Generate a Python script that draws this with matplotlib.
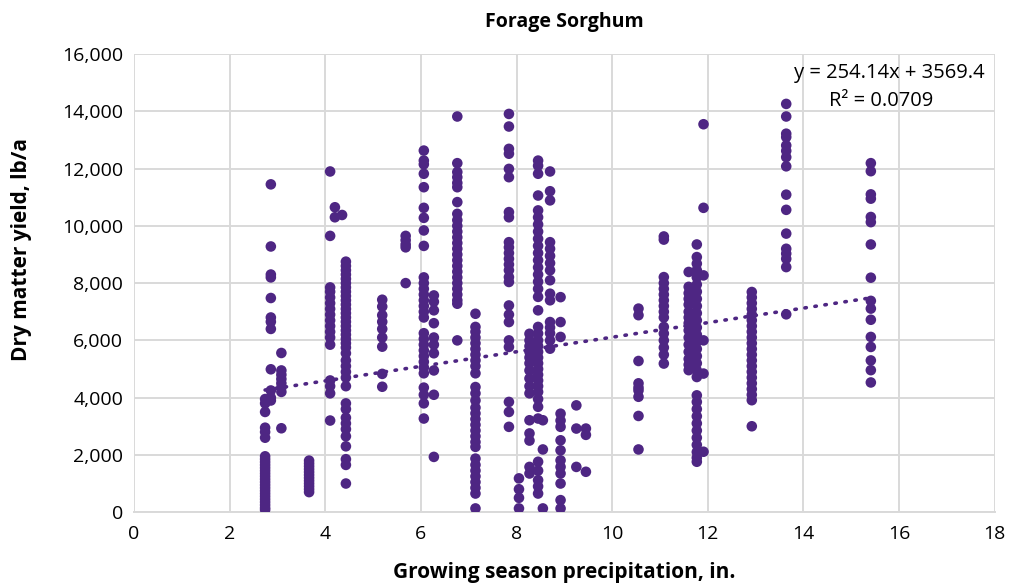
import numpy as np
import matplotlib
matplotlib.use("Agg")
import matplotlib.pyplot as plt
from matplotlib.ticker import FuncFormatter

# --- DATA: dry matter yield (lb/a) by growing season precipitation (in.) ---
col_x = [2.74, 2.86, 3.08, 3.66, 4.10, 4.20, 4.35, 4.43, 5.19, 5.68, 6.06, 6.27,
         6.76, 7.14, 7.84, 8.05, 8.27, 8.45, 8.55, 8.70, 8.92, 9.25, 9.45,
         10.55, 11.08, 11.60, 11.77, 11.91, 12.92, 13.64, 15.41]

col_y = [
    [3950, 3800, 3500, 2950, 2800, 2600, 1950, 1850, 1750, 1650, 1550, 1450, 1350,
     1250, 1150, 1050, 950, 850, 750, 650, 550, 450, 350, 250, 150, 80],
    [11450, 9280, 8300, 8200, 7480, 6800, 6650, 6400, 4990, 4250, 4000, 3900],
    [5560, 4950, 4800, 4650, 4500, 4350, 4200, 2930],
    [1800, 1700, 1600, 1500, 1400, 1300, 1200, 1100, 1000, 900, 800, 700],
    [11900, 9650, 7850, 7700, 7500, 7300, 7100, 6900, 6700, 6500, 6300, 6100,
     5850, 4600, 4400, 4150, 3200],
    [10650, 10300],
    [10380],
    [8750, 8600, 8450, 8300, 8150, 8000, 7850, 7700, 7550, 7400, 7250, 7100, 6950,
     6800, 6650, 6500, 6350, 6200, 6050, 5900, 5750, 5550, 5300, 5100, 4900, 4700,
     4400, 3800, 3600, 3300, 3100, 2900, 2650, 2300, 1850, 1650, 1000],
    [7420, 7180, 6880, 6650, 6400, 6100, 5780, 4830, 4380],
    [9650, 9500, 9350, 9250, 8000],
    [12630, 12280, 12150, 11820, 11350, 10630, 10280, 9840, 9300, 8200, 8000, 7800,
     7600, 7400, 7200, 7000, 6800, 6250, 6050, 5850, 5650, 5450, 5250, 5050, 4850,
     4350, 4100, 3800, 3270],
    [7570, 7350, 7050, 6600, 6100, 5850, 5550, 4950, 4100, 1930],
    [13820, 12190, 11880, 11700, 11500, 11350, 10830, 10420, 10200, 10000, 9800,
     9600, 9400, 9200, 9000, 8800, 8600, 8400, 8200, 8000, 7800, 7600, 7400, 7280, 6000],
    [6930, 6470, 6300, 6100, 5900, 5700, 5500, 5300, 5100, 4850, 4370, 4150, 3900,
     3650, 3450, 3250, 3050, 2850, 2650, 2450, 2280, 1870, 1650, 1450, 1250, 1050,
     850, 650, 130],
    [13910, 13470, 12690, 12520, 11990, 11700, 10480, 10300, 9430, 9250, 9050, 8850,
     8650, 8450, 8210, 8040, 7220, 6900, 6640, 6000, 5770, 3850, 3500, 2980],
    [1180, 800, 500, 130],
    [6230, 6000, 5800, 5600, 5400, 5200, 4950, 4670, 4400, 4150, 3210, 2750, 2500,
     1580, 1350],
    [12280, 12100, 11820, 11060, 10540, 10300, 10050, 9800, 9550, 9300, 9050, 8800,
     8550, 8300, 8050, 7800, 7520, 7050, 6470, 6240, 6000, 5800, 5600, 5400, 5200,
     5000, 4800, 4600, 4400, 4200, 3950, 3680, 3270, 1760, 1450, 1120, 900, 650],
    [3210, 2190, 130],
    [11900, 11210, 10890, 9430, 9200, 8950, 8700, 8450, 8100, 7630, 7400, 6640, 6450,
     6250, 6000, 5710],
    [7510, 6640, 6120, 3440, 3200, 2980, 2510, 2160, 1810, 1580, 1350, 1000, 420, 130],
    [3730, 2920, 1580],
    [2920, 2700, 1410],
    [7110, 6880, 5280, 4500, 4350, 4250, 4030, 3360, 2190],
    [9630, 9520, 8210, 8000, 7800, 7600, 7400, 7200, 7000, 6800, 6470, 6240, 6000,
     5750, 5500, 5190],
    [8390, 7870, 7650, 7450, 7250, 7000, 6800, 6600, 6350, 6100, 5850, 5600, 5350,
     5150, 4960],
    [9350, 8910, 8680, 8450, 8200, 7950, 7700, 7450, 7200, 6950, 6700, 6450, 6200,
     5950, 5700, 5450, 5200, 4950, 4720, 4080, 3850, 3600, 3350, 3100, 2850, 2600,
     2350, 2100, 1900, 1760],
    [13550, 10630, 8270, 6000, 4840, 2110],
    [7690, 7500, 7300, 7100, 6900, 6700, 6500, 6300, 6100, 5900, 5700, 5500, 5300,
     5100, 4900, 4700, 4500, 4300, 4100, 3910, 3000],
    [14260, 13820, 13220, 13100, 12810, 12620, 12400, 12080, 11090, 10560, 9730,
     9200, 9030, 8850, 8560, 6910],
    [12190, 11910, 11100, 10950, 10310, 10130, 9350, 8190, 7380, 7110, 6720, 6120,
     5770, 5300, 4960, 4530],
]

# linear trendline as shown on the chart
slope, intercept, r2 = 254.14, 3569.4, 0.0709

purple = "#4e2683"

# --- flatten columns into points ---
xs = np.concatenate([[x] * len(ys) for x, ys in zip(col_x, col_y)])
ys = np.concatenate(col_y)

plt.rcParams['font.family'] = ['Open Sans', 'DejaVu Sans']

fig = plt.figure(figsize=(10.16, 5.88), dpi=100)
ax = fig.add_axes([0.132, 0.129, 0.847, 0.779])

ax.scatter(xs, ys, s=58, color=purple, edgecolors='none', zorder=3)

tx = np.array([min(col_x), max(col_x)])
ax.plot(tx, slope * tx + intercept, color=purple, lw=2.6,
        linestyle=(0, (0.4, 2.4)), dash_capstyle='round', zorder=4)

ax.set_xlim(0, 18)
ax.set_ylim(0, 16000)
ax.set_xticks(np.arange(0, 19, 2))
ax.set_yticks(np.arange(0, 16001, 2000))
ax.yaxis.set_major_formatter(FuncFormatter(lambda v, p: f"{int(v):,}"))

ax.grid(True, color="#d9d9d9", lw=1.4, zorder=0)
ax.set_axisbelow(True)
for s in ['top', 'right', 'left']:
    ax.spines[s].set_visible(False)
ax.spines['bottom'].set_color("#d9d9d9")
ax.spines['bottom'].set_linewidth(1.4)
ax.tick_params(length=0, labelsize=14, colors="black")
ax.tick_params(axis='x', pad=9)
ax.tick_params(axis='y', pad=8)

fig.text(0.555, 0.963, "Forage Sorghum", fontsize=14, fontweight='bold',
         ha='center', va='center')
fig.text(0.555, 0.026, "Growing season precipitation, in.", fontsize=15,
         fontweight='bold', ha='center', va='center')
fig.text(0.021, 0.575, "Dry matter yield, lb/a", fontsize=15, fontweight='bold',
         rotation=90, ha='center', va='center')

ax.text(0.988, 0.947, f"y = {slope}x + {intercept}", transform=ax.transAxes,
        ha='right', va='baseline', fontsize=14.5)
ax.text(0.868, 0.887, f"R² = {r2}", transform=ax.transAxes,
        ha='center', va='baseline', fontsize=14.5)

fig.savefig("out.png", dpi=100)
